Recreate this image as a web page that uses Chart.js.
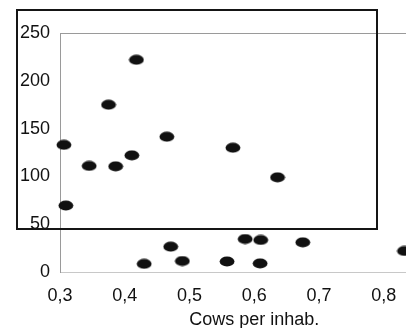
<!DOCTYPE html>
<html>
<head>
<meta charset="utf-8">
<script src="https://cdn.jsdelivr.net/npm/chart.js@4/dist/chart.umd.min.js"></script>
<style>
    html, body { margin: 0; padding: 0; background: #fff; overflow: hidden; }
    #wrap { position: relative; width: 406px; height: 328px; overflow: hidden; }
    #wrap canvas { position: absolute; left: 0; top: 0; }
    #frame {
        position: absolute; left: 16px; top: 9px; width: 358px; height: 217px;
        border: 2px solid #151515;
    }
</style>
</head>
<body>
<div id="wrap">
    <canvas id="chart" width="466" height="340" style="width:466px;height:340px"></canvas>
    <div id="frame"></div>
</div>
<script>
// cows per inhabitant (x) vs value (y)
const cowsPerInhab = [0.418, 0.375, 0.306, 0.345, 0.386, 0.411, 0.465, 0.567, 0.636, 0.309,
                      0.430, 0.471, 0.489, 0.558, 0.586, 0.610, 0.609, 0.675, 0.832];
const values = [222, 175, 133, 111, 110.5, 122, 141.5, 130, 99, 69.5,
                8.5, 26.5, 11.5, 11, 34.5, 33.5, 9, 31, 22];

const xTitle = 'Cows per inhab.';
const xMin = 0.3, xMax = 0.9, xStep = 0.1;
const yMin = 0, yMax = 250, yStep = 50;

// ellipse marker
const dot = document.createElement('canvas');
dot.width = 16; dot.height = 11;
const dctx = dot.getContext('2d');
dctx.fillStyle = '#111';
dctx.beginPath();
dctx.ellipse(8, 5.5, 7.4, 5.1, 0, 0, Math.PI * 2);
dctx.fill();

const points = cowsPerInhab.map((x, i) => ({ x: x, y: values[i] }));

const family = '"Liberation Sans", Arial, sans-serif';

new Chart(document.getElementById('chart').getContext('2d'), {
    type: 'scatter',
    data: {
        datasets: [{
            data: points,
            pointStyle: dot,
            pointRadius: 7,
            clip: false,
        }],
    },
    options: {
        responsive: false,
        animation: false,
        events: [],
        layout: { padding: { top: 33, right: 0, left: 0, bottom: 0 } },
        plugins: { legend: { display: false }, tooltip: { enabled: false } },
        scales: {
            x: {
                type: 'linear',
                min: xMin,
                max: xMax,
                afterFit: (axis) => { axis.height = 68; },
                border: { color: '#c8c8c8', width: 1 },
                grid: { display: false },
                ticks: {
                    stepSize: xStep,
                    color: '#111',
                    font: { family: family, size: 18 },
                    padding: 5,
                    maxRotation: 0,
                    callback: (v) => v.toFixed(1).replace('.', ','),
                },
                title: {
                    display: true,
                    text: xTitle,
                    color: '#111',
                    font: { family: family, size: 18 },
                    padding: { top: 0, bottom: 9 },
                },
            },
            y: {
                min: yMin,
                max: yMax,
                afterFit: (axis) => { axis.width = 60; },
                border: { color: '#9a9a9a', width: 1 },
                grid: {
                    drawTicks: false,
                    color: (ctx) => (ctx.tick && ctx.tick.value === yMax ? '#9a9a9a' : 'transparent'),
                },
                ticks: {
                    stepSize: yStep,
                    color: '#111',
                    font: { family: family, size: 18 },
                    padding: 10,
                },
            },
        },
    },
});
</script>
</body>
</html>
